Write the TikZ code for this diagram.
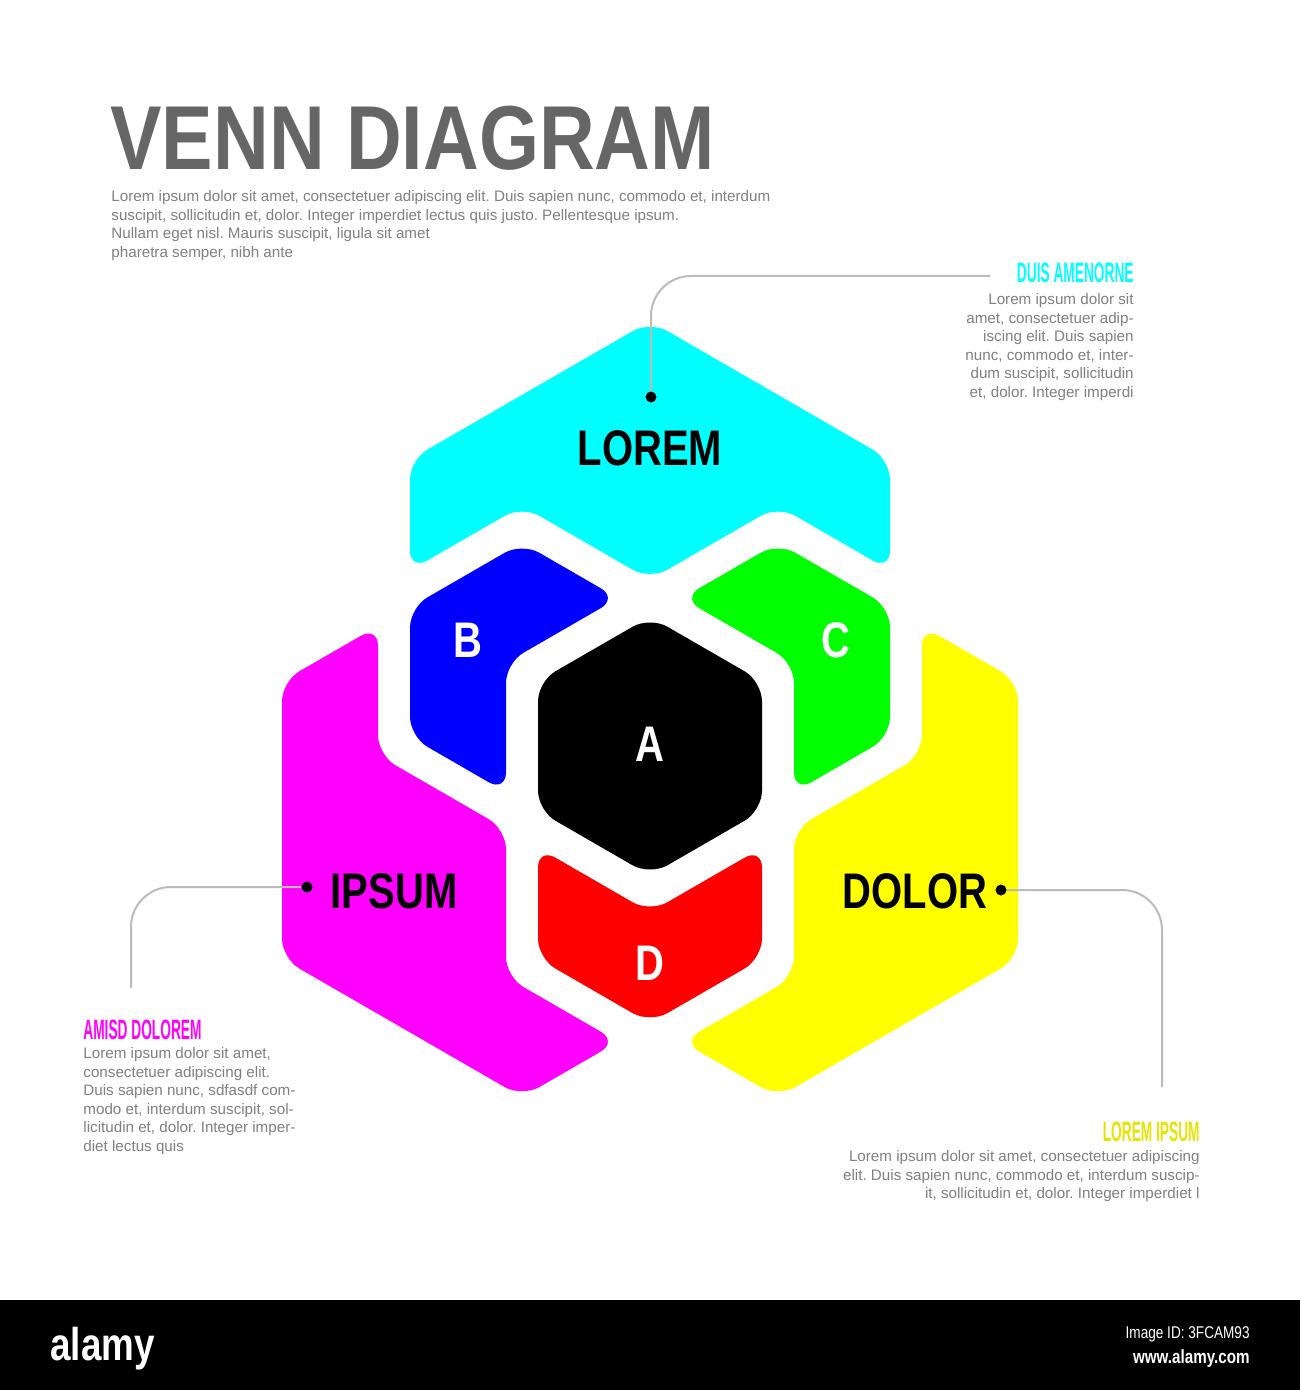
\documentclass[tikz,border=0pt]{standalone}
\usepackage{fontspec}
\setmainfont{Liberation Sans}
\newfontfamily\titlefont{Liberation Sans}[FakeStretch=0.85]
\newfontfamily\headfont{Liberation Sans}[FakeStretch=0.8]
\newfontfamily\tagfont{Liberation Sans}[FakeStretch=0.49]
\usepackage{tikz}
\frenchspacing
\definecolor{titlegray}{HTML}{666666}
\definecolor{bodygray}{HTML}{808080}
\definecolor{leadgray}{HTML}{BBBBBB}
\definecolor{lorem}{HTML}{00FFFF}
\definecolor{ipsum}{HTML}{FF00FF}
\definecolor{dolor}{HTML}{FFFF00}
\definecolor{regB}{HTML}{0000FF}
\definecolor{regC}{HTML}{00FF00}
\definecolor{regD}{HTML}{FF0000}
\definecolor{tagyellow}{HTML}{E6E300}
\tikzset{
  region/.style={rounded corners=10pt},
  lab/.style={font=\headfont\bfseries\fontsize{25}{25}\selectfont, inner sep=0pt},
  letter/.style={lab, text=white},
  tag/.style={font=\tagfont\bfseries\fontsize{14}{14}\selectfont, inner sep=0pt},
  blurb/.style={font=\fontsize{7.6}{9.3}\selectfont, text=bodygray, inner sep=0pt},
  dot/.style={circle, fill=black, inner sep=0pt, minimum size=5.5pt},
  lead/.style={draw=leadgray, line width=1pt, rounded corners=20pt}
}

\begin{document}
\begin{tikzpicture}[x=0.5pt, y=-0.5pt]
  \useasboundingbox (0,0) rectangle (1300,1390);
  \fill[white] (0,0) rectangle (1300,1390);

  % regions on the hexagon lattice
  \begin{scope}[x={(0.5pt,0.2887pt)}, y={(-0.5pt,0.2887pt)}, shift={(325pt,-373pt)}]
    \fill[lorem, region] (368,368) -- (368,128) -- (272,32) -- (272,144) -- (144,144)
      -- (144,272) -- (32,272) -- (128,368) -- cycle;
    \fill[ipsum, region] (-128,240) -- (-32,240) -- (-144,128) -- (-144,0) -- (-272,-128)
      -- (-272,-240) -- (-368,-240) -- (-368,0) -- cycle;
    \fill[dolor, region] (240,-128) -- (240,-32) -- (128,-144) -- (0,-144) -- (-128,-272)
      -- (-240,-272) -- (-240,-368) -- (0,-368) -- cycle;
    \fill[regB, region] (112,240) -- (112,144) -- (0,144) -- (-112,32) -- (-112,128) -- (0,240) -- cycle;
    \fill[regC, region] (240,112) -- (144,112) -- (144,0) -- (32,-112) -- (128,-112) -- (240,0) -- cycle;
    \fill[regD, region] (-128,-240) -- (-240,-240) -- (-240,-128) -- (-144,-32) -- (-144,-144) -- (-32,-144) -- cycle;
    \fill[black, region] (112,112) -- (112,0) -- (0,-112) -- (-112,-112) -- (-112,0) -- (0,112) -- cycle;
  \end{scope}

  \node[lab] (lorem) at (650,448) {LOREM};
  \node[lab] (ipsum) at (394,891) {IPSUM};
  \node[lab] (dolor) at (915,891) {DOLOR};
  \node[letter] (a) at (650,744) {A};
  \node[letter] (b) at (468,640) {B};
  \node[letter] (c) at (836,640) {C};
  \node[letter] (d) at (650,963) {D};

  \node[dot] (lorem dot) at (651,397) {};
  \node[dot] (ipsum dot) at (307,887) {};
  \node[dot] (dolor dot) at (1001,890) {};
  \coordinate (lorem end) at (990,276);
  \coordinate (ipsum end) at (131,988);
  \coordinate (dolor end) at (1162,1087);
  \draw[lead] (lorem dot) |- (lorem end);
  \draw[lead] (ipsum dot) -| (ipsum end);
  \draw[lead] (dolor dot) -| (dolor end);

  \node[anchor=base west, inner sep=0pt, text=titlegray,
        font=\titlefont\bfseries\fontsize{45.4}{46}\selectfont] (heading) at (110,170) {VENN DIAGRAM};
  \node[blurb, anchor=north west, align=left] (intro) at (111,190)
    {Lorem ipsum dolor sit amet, consectetuer adipiscing elit. Duis sapien nunc, commodo et, interdum\\
     suscipit, sollicitudin et, dolor. Integer imperdiet lectus quis justo. Pellentesque ipsum.\\
     Nullam eget nisl. Mauris suscipit, ligula sit amet\\
     pharetra semper, nibh ante};

  \node[tag, text=lorem, anchor=base east] (lorem tag) at (1134,283) {DUIS AMENORNE};
  \node[blurb, anchor=north east, align=right] (lorem text) at (1134,293)
    {Lorem ipsum dolor sit\\ amet, consectetuer adip-\\ iscing elit. Duis sapien\\
     nunc, commodo et, inter-\\ dum suscipit, sollicitudin\\ et, dolor. Integer imperdi};

  \node[tag, text=ipsum, anchor=base west] (ipsum tag) at (83,1039) {AMISD DOLOREM};
  \node[blurb, anchor=north west, align=left] (ipsum text) at (83,1047)
    {Lorem ipsum dolor sit amet,\\ consectetuer adipiscing elit.\\ Duis sapien nunc, sdfasdf com-\\
     modo et, interdum suscipit, sol-\\ licitudin et, dolor. Integer imper-\\ diet lectus quis};

  \node[tag, text=tagyellow, anchor=base east] (dolor tag) at (1200,1141) {LOREM IPSUM};
  \node[blurb, anchor=north east, align=right] (dolor text) at (1200,1150)
    {Lorem ipsum dolor sit amet, consectetuer adipiscing\\
     elit. Duis sapien nunc, commodo et, interdum suscip-\\
     it, sollicitudin et, dolor. Integer imperdiet l};

  \fill[black] (0,1300) rectangle (1300,1390);
  \node[anchor=base west, inner sep=0pt, text=white,
        font=\headfont\bfseries\fontsize{23}{23}\selectfont] (logo) at (50,1360) {alamy};
  \node[anchor=base east, inner sep=0pt, text=white,
        font=\headfont\fontsize{8.5}{9}\selectfont] (image id) at (1250,1338) {Image ID: 3FCAM93};
  \node[anchor=base east, inner sep=0pt, text=white,
        font=\headfont\bfseries\fontsize{9.5}{10}\selectfont] (site) at (1250,1363) {www.alamy.com};
\end{tikzpicture}
\end{document}
